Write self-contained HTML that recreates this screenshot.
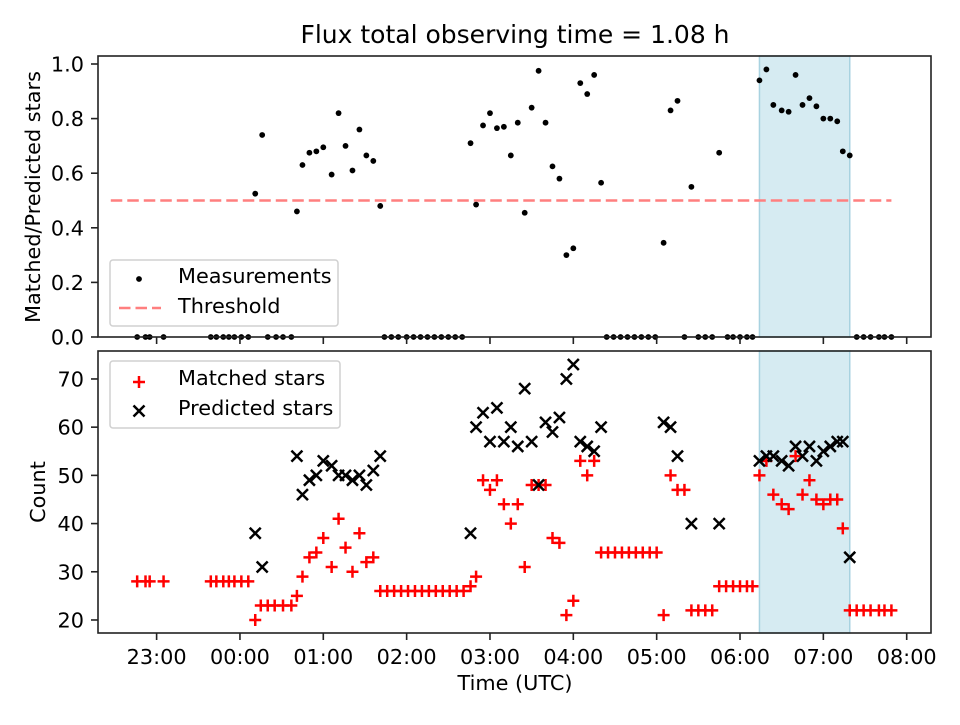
<!DOCTYPE html>
<html><head><meta charset="utf-8"><style>
body{margin:0;background:#fff;}
svg text{font-family:"DejaVu Sans","Liberation Sans",sans-serif;}
</style></head><body>
<svg id="chart" width="960" height="720" viewBox="0 0 960 720" xmlns="http://www.w3.org/2000/svg"></svg>
<script>
// Data (times in minutes after 00:00 UTC)
const ratioTimes = [11,16,41,45,50,55,60,66,71,76,81,86,91,96,101,166,170,175,180,185,190,195,200,205,210,215,220,225,230,235,240,245,250,255,260,305,310,315,325,345,374,379,384,390,395,400,405,410,415,420,425,430,434,439];
const ratioValues = [0.525,0.74,0.46,0.63,0.675,0.68,0.695,0.595,0.82,0.70,0.61,0.76,0.665,0.645,0.48,0.71,0.485,0.775,0.82,0.765,0.77,0.665,0.785,0.455,0.84,0.975,0.785,0.625,0.58,0.30,0.325,0.93,0.89,0.96,0.565,0.345,0.83,0.865,0.55,0.675,0.94,0.98,0.85,0.83,0.825,0.96,0.85,0.875,0.845,0.80,0.80,0.79,0.68,0.665];
const zeroTimes = [-74,-68,-65,-55,-21,-17,-12,-8,-4,1,6,20,26,31,37,104,109,114,120,125,130,135,140,145,150,155,160,264,269,274,279,284,289,294,299,320,330,335,340,351,355,360,365,369,444,449,454,460,464,469];
const matchedTimes = [-74,-68,-65,-55,-21,-17,-12,-8,-4,1,6,11,15,20,25,31,37,41,45,50,55,60,66,71,76,81,86,91,96,101,106,111,116,121,126,131,136,141,146,151,156,161,166,170,175,180,185,190,195,200,205,210,215,220,225,230,235,240,245,250,255,260,265,270,275,280,285,290,295,300,305,310,315,320,325,330,335,340,345,350,355,360,365,369,374,379,384,390,395,400,405,410,415,420,425,430,434,439,444,449,454,460,464,469];
const matchedValues = [28,28,28,28,28,28,28,28,28,28,28,20,23,23,23,23,23,25,29,33,34,37,31,41,35,30,38,32,33,26,26,26,26,26,26,26,26,26,26,26,26,26,27,29,49,47,49,44,40,44,31,48,48,48,37,36,21,24,53,50,53,34,34,34,34,34,34,34,34,34,21,50,47,47,22,22,22,22,27,27,27,27,27,27,50,53,46,44,43,54,46,49,45,44,45,45,39,22,22,22,22,22,22,22];
const predTimes = [11,16,41,45,50,55,60,66,71,76,81,86,91,96,101,166,170,175,180,185,190,195,200,205,210,215,220,225,230,235,240,245,250,255,260,305,310,315,325,345,374,379,384,390,395,400,405,410,415,420,425,430,434,439];
const predValues = [38,31,54,46,49,50,53,52,50,50,49,50,48,51,54,38,60,63,57,64,57,60,56,68,57,48,61,59,62,70,73,57,56,55,60,61,60,54,40,40,53,54,54,53,52,56,54,56,53,55,56,57,57,33];
const xTickLabels = ["23:00","00:00","01:00","02:00","03:00","04:00","05:00","06:00","07:00","08:00"];
const xTickValues = [-60,0,60,120,180,240,300,360,420,480];
const topTicks = [0,0.2,0.4,0.6,0.8,1.0];
const botTicks = [20,30,40,50,60,70];
const spanStart = 374, spanEnd = 439, threshold = 0.5;

const NS="http://www.w3.org/2000/svg";
const svg=document.getElementById('chart');
function mk(tag,attrs,parent){const e=document.createElementNS(NS,tag);for(const k in attrs)e.setAttribute(k,attrs[k]);(parent||svg).appendChild(e);return e;}
const L=98,R=931;
const xMin=-102.2,xMax=497.5;
const X=v=>L+(v-xMin)/(xMax-xMin)*(R-L);
const T={top:56,bot:337,min:0,max:1.0293};
const B={top:351,bot:633,min:17.3,max:75.8};
const Yt=v=>T.bot-(v-T.min)/(T.max-T.min)*(T.bot-T.top);
const Yb=v=>B.bot-(v-B.min)/(B.max-B.min)*(B.bot-B.top);
const FS='20.8';

mk('rect',{x:0,y:0,width:960,height:720,fill:'#fff'});
const title=mk('text',{x:515,y:43,'text-anchor':'middle','font-size':'25'});
title.textContent='Flux total observing time = 1.08 h';



[[T,'top'],[B,'bottom']].forEach(([P,n])=>{
  const r=mk('rect',{x:X(spanStart),y:P.top,width:X(spanEnd)-X(spanStart),height:P.bot-P.top,fill:'#add8e6','fill-opacity':0.5,stroke:'#a8d2e0','stroke-width':1.5});
  
  
});

const gt=mk('g',{});


const th=mk('line',{x1:X(-93),x2:X(469),y1:Yt(threshold),y2:Yt(threshold),stroke:'#ff7f7f','stroke-width':2.6,'stroke-dasharray':'11.5,5'},gt);


ratioTimes.forEach((t,i)=>{
  const c=mk('circle',{cx:X(t),cy:Yt(ratioValues[i]),r:2.9,fill:'#000'},gt);
  
  
});
zeroTimes.forEach(t=>{
  const c=mk('circle',{cx:X(t),cy:Yt(0),r:2.9,fill:'#000'},gt);
  
  
});

const gb=mk('g',{});


function plus(x,y,p){mk('path',{d:`M${x-6},${y}H${x+6}M${x},${y-6}V${y+6}`,stroke:'red','stroke-width':2.5,fill:'none'},p);}
function cross(x,y,p){mk('path',{d:`M${x-5.5},${y-5.5}L${x+5.5},${y+5.5}M${x-5.5},${y+5.5}L${x+5.5},${y-5.5}`,stroke:'#000','stroke-width':2.5,fill:'none'},p);}
matchedTimes.forEach((t,i)=>{
  const g=mk('g',{},gb);
  
  
  plus(X(t),Yb(matchedValues[i]),g);
});
predTimes.forEach((t,i)=>{
  const g=mk('g',{},gb);
  
  
  cross(X(t),Yb(predValues[i]),g);
});

[T,B].forEach((P,k)=>{
  const f=mk('rect',{x:L,y:P.top,width:R-L,height:P.bot-P.top,fill:'none',stroke:'#222','stroke-width':1.6});
  
  
  xTickValues.forEach((v,i)=>{
    mk('line',{x1:X(v),x2:X(v),y1:P.bot,y2:P.bot+7,stroke:'#222','stroke-width':1.6});
    if(k){const tx=mk('text',{x:X(v),y:P.bot+31,'text-anchor':'middle','font-size':FS});tx.textContent=xTickLabels[i];
      
      }
  });
});
topTicks.forEach(v=>{
  mk('line',{x1:L-7,x2:L,y1:Yt(v),y2:Yt(v),stroke:'#222','stroke-width':1.6});
  const tx=mk('text',{x:L-14,y:Yt(v)+7.5,'text-anchor':'end','font-size':FS});tx.textContent=v.toFixed(1);
  
  
});
botTicks.forEach(v=>{
  mk('line',{x1:L-7,x2:L,y1:Yb(v),y2:Yb(v),stroke:'#222','stroke-width':1.6});
  const tx=mk('text',{x:L-14,y:Yb(v)+7.5,'text-anchor':'end','font-size':FS});tx.textContent=v;
  
  
});
let t1=mk('text',{x:0,y:0,'text-anchor':'middle','font-size':FS,transform:'translate(40,197) rotate(-90)'});t1.textContent='Matched/Predicted stars';


let t2=mk('text',{x:0,y:0,'text-anchor':'middle','font-size':FS,transform:'translate(45,492) rotate(-90)'});t2.textContent='Count';


let t3=mk('text',{x:515,y:690,'text-anchor':'middle','font-size':FS});t3.textContent='Time (UTC)';



const lg1=mk('g',{});


mk('rect',{x:110,y:260,width:228,height:66,rx:3,fill:'#fff','fill-opacity':0.8,stroke:'#d0d0d0','stroke-width':1.5},lg1);
mk('circle',{cx:139,cy:279,r:2.9,fill:'#000'},lg1);
mk('line',{x1:119,x2:161,y1:308,y2:308,stroke:'#ff7f7f','stroke-width':2.6,'stroke-dasharray':'11.5,5'},lg1);
let a=mk('text',{x:178,y:283,'font-size':FS},lg1);a.textContent='Measurements';
let b=mk('text',{x:178,y:313,'font-size':FS},lg1);b.textContent='Threshold';
const lg2=mk('g',{});


mk('rect',{x:110,y:361,width:230,height:67,rx:3,fill:'#fff','fill-opacity':0.8,stroke:'#d0d0d0','stroke-width':1.5},lg2);
plus(139,382,lg2);cross(139,411,lg2);
let c=mk('text',{x:178,y:385,'font-size':FS},lg2);c.textContent='Matched stars';
let d=mk('text',{x:178,y:415,'font-size':FS},lg2);d.textContent='Predicted stars';
</script>
</body></html>
